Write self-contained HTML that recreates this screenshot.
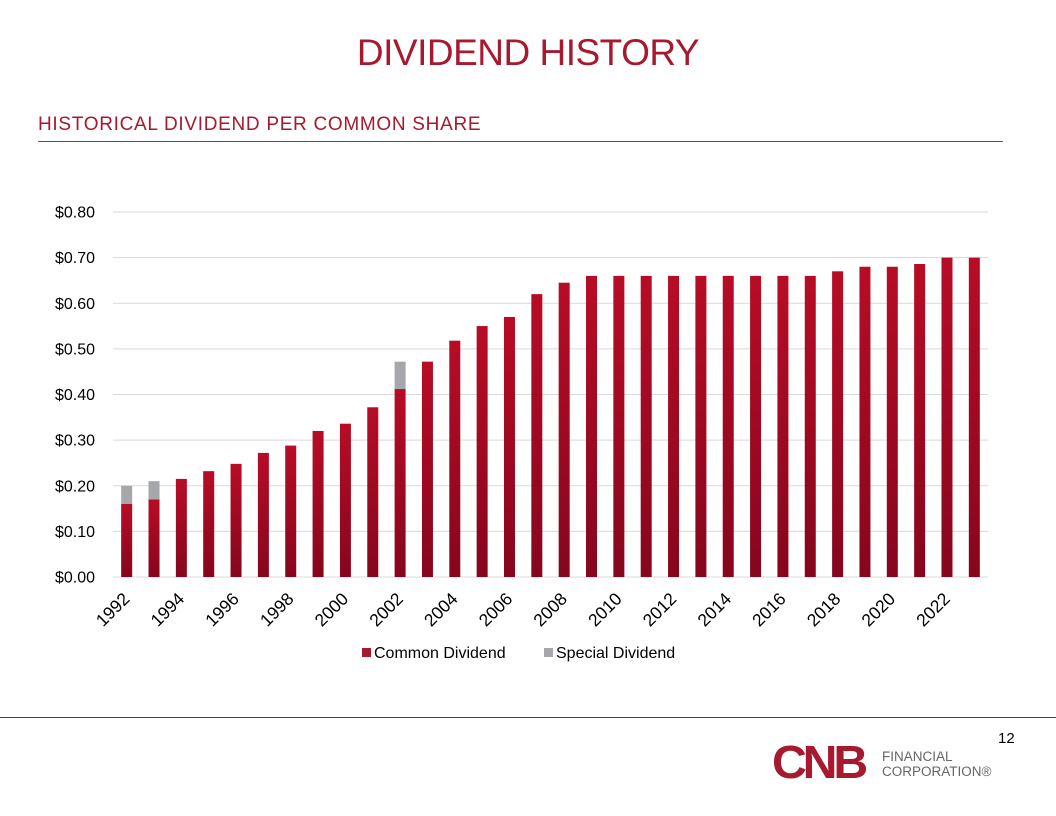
<!DOCTYPE html>
<html><head><meta charset="utf-8"><style>
body{margin:0;width:1056px;height:816px;background:#fff;font-family:"Liberation Sans",sans-serif;overflow:hidden;position:relative}
.t{position:absolute;left:0;width:1056px;top:32px;text-align:center;font-size:37px;color:#a6192e;letter-spacing:-0.5px}
.st{position:absolute;left:38px;top:114px;font-size:19px;color:#a6192e;letter-spacing:0.7px}
.rule{position:absolute;left:38px;top:141px;width:965px;height:1px;background:#555}
.bot{position:absolute;left:0;top:717px;width:1056px;height:1px;background:#a6192e}
</style></head><body>
<div class="t">DIVIDEND HISTORY</div>
<div class="st">HISTORICAL DIVIDEND PER COMMON SHARE</div>
<div class="rule"></div>
<div class="bot"></div>
<svg id="c" width="1056" height="816" style="position:absolute;left:0;top:0">
<defs><linearGradient id="g" x1="0" y1="0" x2="0" y2="1"><stop offset="0" stop-color="#b80c26"/><stop offset="1" stop-color="#86061d"/></linearGradient></defs>
</svg>
<svg width="260" height="50" style="position:absolute;left:772px;top:740px">
<text x="0" y="38" font-family="Liberation Sans" font-weight="bold" font-size="46" fill="#a6192e" letter-spacing="-4" transform="scale(1.05,1)">CNB</text>
<text x="110" y="21" font-family="Liberation Sans" font-size="13.5" fill="#666">FINANCIAL</text>
<text x="110" y="36" font-family="Liberation Sans" font-size="13.5" fill="#666">CORPORATION®</text>
</svg>
<div style="position:absolute;left:998px;top:730px;font-size:15px">12</div>
<script>
const years=[1992,1993,1994,1995,1996,1997,1998,1999,2000,2001,2002,2003,2004,2005,2006,2007,2008,2009,2010,2011,2012,2013,2014,2015,2016,2017,2018,2019,2020,2021,2022,2023];
const common=[0.16,0.17,0.215,0.232,0.248,0.272,0.288,0.32,0.336,0.372,0.412,0.472,0.518,0.55,0.57,0.62,0.645,0.66,0.66,0.66,0.66,0.66,0.66,0.66,0.66,0.66,0.67,0.68,0.68,0.686,0.70,0.70];
const special=[0.04,0.04,0,0,0,0,0,0,0,0,0.06,0,0,0,0,0,0,0,0,0,0,0,0,0,0,0,0,0,0,0,0,0];
const ticks=[0,0.1,0.2,0.3,0.4,0.5,0.6,0.7,0.8];
const svg=document.getElementById('c');const NS='http://www.w3.org/2000/svg';
const y0=577,y1=212,left=113,right=988;
const y=v=>y0-(v/0.8)*(y0-y1);
const step=(right-left)/years.length;
const x=i=>left+step*(i+0.5);
function mk(t,a){const e=document.createElementNS(NS,t);for(const k in a)e.setAttribute(k,a[k]);svg.appendChild(e);return e;}
ticks.forEach(v=>{
 const l=mk('line',{x1:left,x2:right,y1:y(v),y2:y(v),stroke:'#d9d9d9','stroke-width':1});
 
 
 const t=mk('text',{x:95,y:y(v)+5.5,'text-anchor':'end','font-size':16,fill:'#000','font-family':'Liberation Sans'});
 t.textContent='$'+v.toFixed(2);
 
 
});
years.forEach((yr,i)=>{
 const bw=11,cx=x(i);
 const b=mk('rect',{x:cx-bw/2,y:y(common[i]),width:bw,height:y0-y(common[i]),fill:'url(#g)'});
 
 
 if(special[i]>0){
  const s=mk('rect',{x:cx-bw/2,y:y(common[i]+special[i]),width:bw,height:y(common[i])-y(common[i]+special[i]),fill:'#a5a7aa'});
  
  
 }
 if(i%2===0){
  const ax=cx+4,ay=600;
  const t=mk('text',{x:ax,y:ay,'text-anchor':'end','font-size':17.5,fill:'#000','font-family':'Liberation Sans',transform:`rotate(-45 ${ax} ${ay})`});
  t.textContent=yr;
  
  
 }
});
const lg=[['#a6192e','Common Dividend',362],['#a5a7aa','Special Dividend',544]];
lg.forEach(d=>{
 const r=mk('rect',{x:d[2],y:648,width:9,height:9,fill:d[0]});
 
 
 const t=mk('text',{x:d[2]+12,y:658,'font-size':16,fill:'#000','font-family':'Liberation Sans'});
 t.textContent=d[1];
 
 
});
</script>
</body></html>
